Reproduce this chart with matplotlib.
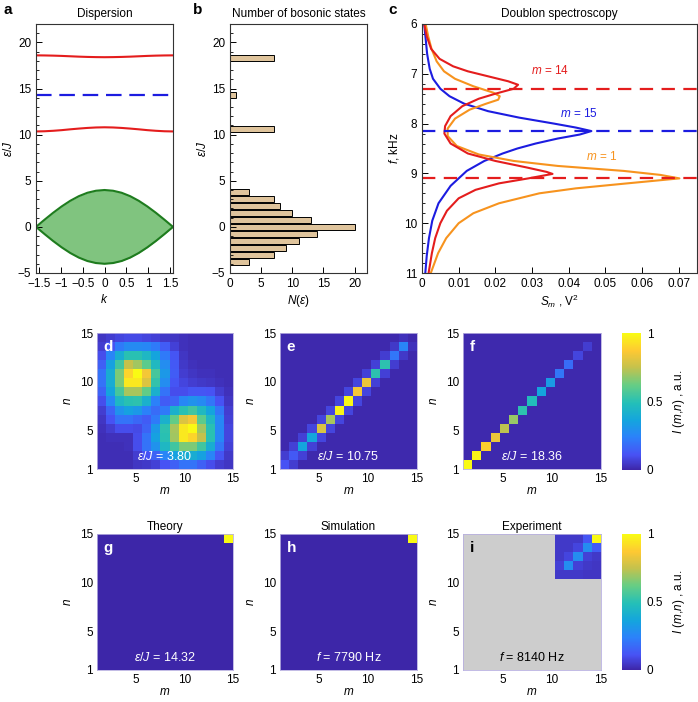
import numpy as np
import matplotlib
matplotlib.use('Agg')
import matplotlib.pyplot as plt
from matplotlib.colors import LinearSegmentedColormap
from matplotlib.ticker import MultipleLocator

plt.rcParams['font.family'] = ['Liberation Sans', 'DejaVu Sans']
plt.rcParams['mathtext.fontset'] = 'custom'
plt.rcParams['mathtext.rm'] = 'Liberation Sans'
plt.rcParams['mathtext.it'] = 'Liberation Sans:italic'
plt.rcParams['mathtext.bf'] = 'Liberation Sans:bold'
plt.rcParams['font.size'] = 8.5
plt.rcParams['axes.linewidth'] = 0.8

# ---------------- data: panel a (dispersion) ----------------
k_vals = [-1.5708, -1.3744, -1.1781, -0.9817, -0.7854, -0.5890, -0.3927, -0.1963, 0.0,
          0.1963, 0.3927, 0.5890, 0.7854, 0.9817, 1.1781, 1.3744, 1.5708]
band_top = [0.0, 0.78, 1.53, 2.22, 2.83, 3.33, 3.70, 3.92, 4.00,
            3.92, 3.70, 3.33, 2.83, 2.22, 1.53, 0.78, 0.0]
band_bottom = [0.0, -0.78, -1.53, -2.22, -2.83, -3.33, -3.70, -3.92, -4.00,
               -3.92, -3.70, -3.33, -2.83, -2.22, -1.53, -0.78, 0.0]
bound_upper = [18.60, 18.59, 18.57, 18.54, 18.50, 18.46, 18.43, 18.41, 18.40,
               18.41, 18.43, 18.46, 18.50, 18.54, 18.57, 18.59, 18.60]
bound_lower = [10.35, 10.37, 10.42, 10.49, 10.58, 10.66, 10.73, 10.78, 10.80,
               10.78, 10.73, 10.66, 10.58, 10.49, 10.42, 10.37, 10.35]
doublon_level = 14.32

# ---------------- data: panel b (number of states) ----------------
cont_centers = [-3.82, -3.05, -2.29, -1.53, -0.76, 0.0, 0.76, 1.53, 2.29, 3.05, 3.82]
cont_counts = [3, 7, 9, 11, 14, 20, 13, 10, 8, 7, 3]
bound_centers = [10.6, 14.32, 18.3]
bound_counts = [7, 1, 7]

# ---------------- data: panel c (doublon spectroscopy) ----------------
f_m14 = [6.0, 6.25, 6.5, 6.7, 6.85, 6.95, 7.05, 7.15, 7.22, 7.3, 7.4, 7.5, 7.65, 7.85, 8.05,
         8.2, 8.4, 8.6, 8.75, 8.88, 8.97, 9.01, 9.1, 9.2, 9.33, 9.5, 9.75, 10.0, 10.3, 10.6, 11.0]
S_m14 = [0.0006, 0.0013, 0.0025, 0.0048, 0.0085, 0.0125, 0.0180, 0.0235, 0.0262, 0.0250,
         0.0200, 0.0155, 0.0110, 0.0078, 0.0063, 0.0061, 0.0078, 0.0125, 0.0200, 0.0285,
         0.0340, 0.0356, 0.0290, 0.0210, 0.0146, 0.0100, 0.0068, 0.0050, 0.0036, 0.0027, 0.0018]
f_m1 = [6.0, 6.25, 6.5, 6.75, 6.95, 7.1, 7.25, 7.38, 7.45, 7.52, 7.6, 7.72, 7.9, 8.1, 8.25,
        8.45, 8.62, 8.75, 8.85, 8.95, 9.03, 9.1, 9.2, 9.3, 9.4, 9.6, 9.8, 10.0, 10.3, 10.6, 11.0]
S_m1 = [0.0010, 0.0017, 0.0026, 0.0040, 0.0060, 0.0090, 0.0140, 0.0195, 0.0212, 0.0208,
        0.0175, 0.0130, 0.0090, 0.0070, 0.0070, 0.0095, 0.0155, 0.0250, 0.0370, 0.0550,
        0.0650, 0.0702, 0.0560, 0.0420, 0.0320, 0.0210, 0.0140, 0.0100, 0.0066, 0.0044, 0.0024]
f_m15 = [6.0, 6.3, 6.6, 6.9, 7.1, 7.3, 7.45, 7.6, 7.75, 7.88, 8.0, 8.08, 8.15, 8.22, 8.3,
         8.4, 8.5, 8.6, 8.75, 8.95, 9.25, 9.6, 9.95, 10.3, 10.65, 11.0]
S_m15 = [0.0006, 0.0010, 0.0014, 0.0021, 0.0030, 0.0050, 0.0075, 0.0115, 0.0180, 0.0265,
         0.0360, 0.0420, 0.0462, 0.0430, 0.0370, 0.0310, 0.0260, 0.0220, 0.0170, 0.0122,
         0.0078, 0.0045, 0.0028, 0.0019, 0.0013, 0.0009]
res_red = [7.3, 9.1]
res_blue = 8.15

# ---------------- data: heatmaps (rows n = 15 ... 1, columns m = 1 ... 15) ----------------
d_rows = [
    [.04, .06, .08, .09, .09, .08, .07, .05, .04, .03, .02, .02, .02, .02, .02],
    [.06, .12, .22, .27, .27, .26, .22, .14, .07, .03, .02, .02, .02, .02, .02],
    [.10, .25, .40, .50, .50, .45, .36, .22, .12, .04, .02, .02, .02, .02, .02],
    [.15, .35, .55, .75, .70, .60, .46, .28, .13, .05, .03, .02, .02, .02, .02],
    [.20, .40, .65, .90, 1.0, .85, .56, .32, .14, .06, .04, .03, .03, .02, .02],
    [.20, .40, .65, .95, .95, .80, .52, .28, .12, .08, .06, .05, .04, .03, .02],
    [.16, .36, .56, .71, .71, .61, .42, .20, .10, .10, .12, .12, .11, .06, .03],
    [.10, .26, .45, .50, .51, .42, .24, .14, .16, .26, .30, .27, .21, .11, .04],
    [.06, .16, .30, .35, .32, .24, .18, .22, .42, .50, .55, .46, .36, .21, .06],
    [.04, .11, .20, .20, .17, .14, .22, .42, .61, .80, .85, .60, .45, .26, .07],
    [.03, .06, .10, .10, .09, .16, .32, .51, .71, .95, 1.0, .70, .50, .26, .08],
    [.02, .03, .03, .03, .10, .20, .35, .50, .70, .95, .90, .75, .50, .26, .08],
    [.02, .02, .02, .03, .10, .20, .30, .45, .55, .65, .65, .55, .40, .21, .07],
    [.02, .02, .02, .02, .06, .11, .16, .25, .35, .40, .40, .35, .25, .12, .05],
    [.02, .02, .02, .02, .04, .05, .07, .11, .15, .20, .20, .15, .10, .06, .04],
]
e_diag = [0.10, 0.12, 0.35, 0.36, 0.78, 0.70, 0.97, 0.98, 0.84, 0.82, 0.50, 0.50, 0.20, 0.24, 0.0]
e_offdiag = [0.05, 0.06, 0.06, 0.07, 0.07, 0.07, 0.07, 0.07, 0.07, 0.06, 0.06, 0.05, 0.04, 0.02]
f_diag = [1.0, 0.97, 0.88, 0.82, 0.73, 0.68, 0.50, 0.47, 0.35, 0.32, 0.20, 0.17, 0.07, 0.05, 0.0]
g_peak = 1.0
h_peak = 1.0
i_block_rows = [  # n = 15 ... 11, m = 11 ... 15
    [.05, .05, .05, .12, 1.0],
    [.05, .05, .08, .28, .14],
    [.05, .08, .28, .07, .05],
    [.07, .28, .07, .05, .04],
    [.05, .05, .05, .04, .04],
]

# ---------------- colormap (parula-like) ----------------
parula = LinearSegmentedColormap.from_list('parula', [
    (0.00, (0.2422, 0.1504, 0.6603)),
    (0.11, (0.2810, 0.3228, 0.9579)),
    (0.24, (0.1700, 0.5100, 0.9800)),
    (0.36, (0.0800, 0.6450, 0.8700)),
    (0.49, (0.1400, 0.7500, 0.7200)),
    (0.62, (0.4000, 0.8050, 0.5200)),
    (0.75, (0.7700, 0.7600, 0.3000)),
    (0.87, (0.9950, 0.7850, 0.2000)),
    (1.00, (0.9769, 0.9839, 0.0805)),
])
parula.set_bad('#cdcdcd')

W, H = 698, 702
fig = plt.figure(figsize=(W / 100, H / 100), dpi=100)


def add_ax(x0, y0, x1, y1):
    return fig.add_axes([x0 / W, 1 - y1 / H, (x1 - x0) / W, (y1 - y0) / H])


RED = '#e41d1d'
BLUE = '#1c1ce0'
ORANGE = '#f7931e'

# ---------------- panel a ----------------
axa = add_ax(36, 24, 173, 273)
axa.fill_between(k_vals, band_bottom, band_top, color='#80c47f', lw=0)
axa.plot(k_vals, band_top, color='#1e7c1e', lw=1.5)
axa.plot(k_vals, band_bottom, color='#1e7c1e', lw=1.5)
axa.plot(k_vals, bound_upper, color=RED, lw=1.5)
axa.plot(k_vals, bound_lower, color=RED, lw=1.5)
axa.axhline(doublon_level, color=BLUE, lw=1.6, dashes=(7, 3.5))
axa.set_xlim(-np.pi / 2, np.pi / 2)
axa.set_ylim(-5, 22)
axa.set_xticks([-1.5, -1, -0.5, 0, 0.5, 1, 1.5])
axa.set_xticklabels(['\u22121.5', '\u22121', '\u22120.5', '0', '0.5', '1', '1.5'])
axa.set_yticks([-5, 0, 5, 10, 15, 20])
axa.set_yticklabels(['\u22125', '0', '5', '10', '15', '20'])
axa.yaxis.set_minor_locator(MultipleLocator(1))
axa.set_xlabel(r'$k$', labelpad=2)
axa.set_ylabel(r'$\varepsilon/J$', labelpad=2)
axa.set_title('Dispersion', fontsize=8.5, pad=5)

# ---------------- panel b ----------------
axb = add_ax(230, 24, 367, 273)
axb.barh(cont_centers, cont_counts, height=0.66, color='#dfc49c', edgecolor='black', lw=0.7)
axb.barh(bound_centers, bound_counts, height=0.6, color='#dfc49c', edgecolor='black', lw=0.7)
axb.set_xlim(0, 22)
axb.set_ylim(-5, 22)
axb.set_xticks([0, 5, 10, 15, 20])
axb.set_yticks([-5, 0, 5, 10, 15, 20])
axb.set_yticklabels(['\u22125', '0', '5', '10', '15', '20'])
axb.yaxis.set_minor_locator(MultipleLocator(1))
axb.set_xlabel(r'$N(\varepsilon)$', labelpad=2)
axb.set_ylabel(r'$\varepsilon/J$', labelpad=2)
axb.set_title('Number of bosonic states', fontsize=8.5, pad=5)

# ---------------- panel c ----------------
axc = add_ax(422, 24, 697, 273)
axc.plot(S_m15, f_m15, color=BLUE, lw=1.5)
axc.plot(S_m1, f_m1, color=ORANGE, lw=1.5)
axc.plot(S_m14, f_m14, color=RED, lw=1.5)
for fr in res_red:
    axc.axhline(fr, color=RED, lw=1.6, dashes=(6, 3.8))
axc.axhline(res_blue, color=BLUE, lw=1.6, dashes=(6, 3.8))
axc.set_xlim(0, 0.075)
axc.set_ylim(11, 6)
axc.set_xticks([0, 0.01, 0.02, 0.03, 0.04, 0.05, 0.06, 0.07])
axc.set_xticklabels(['0', '0.01', '0.02', '0.03', '0.04', '0.05', '0.06', '0.07'])
axc.set_yticks([6, 7, 8, 9, 10, 11])
axc.yaxis.set_minor_locator(MultipleLocator(0.2))
axc.set_xlabel(r'$S_m$ , V$^2$', labelpad=2)
axc.set_ylabel(r'$f$, kHz', labelpad=2)
axc.set_title('Doublon spectroscopy', fontsize=8.5, pad=5)
axc.text(0.035, 6.94, r'$m$ = 14', color=RED, ha='center', va='center', fontsize=8.5)
axc.text(0.0427, 7.79, r'$m$ = 15', color=BLUE, ha='center', va='center', fontsize=8.5)
axc.text(0.049, 8.67, r'$m$ = 1', color=ORANGE, ha='center', va='center', fontsize=8.5)

for ax in (axa, axb, axc):
    ax.tick_params(direction='in', which='major', length=4, width=0.7, top=False, right=False)
    ax.tick_params(direction='in', which='minor', length=2, width=0.6, top=False, right=False)
    for s in ax.spines.values():
        s.set_color('#333333')

# ---------------- heatmaps ----------------
d_mat = np.array(d_rows)[::-1]          # row index n-1
e_mat = np.diag(e_diag) + np.diag(e_offdiag, 1) + np.diag(e_offdiag, -1) + 0.01
f_mat = np.diag(f_diag) + 0.01
g_mat = np.zeros((15, 15)); g_mat[14, 14] = g_peak
h_mat = np.zeros((15, 15)); h_mat[14, 14] = h_peak
i_mat = np.full((15, 15), np.nan)
i_mat[10:15, 10:15] = np.array(i_block_rows)[::-1]


def heat(box, data, letter, caption, title=None, dark=False):
    ax = add_ax(*box)
    im = ax.imshow(np.ma.masked_invalid(data), cmap=parula, vmin=0, vmax=1, origin='lower',
                   extent=(1, 15, 1, 15), interpolation='nearest', aspect='auto')
    ax.set_xticks([5, 10, 15])
    ax.set_yticks([1, 5, 10, 15])
    ax.tick_params(length=0, pad=3)
    for s in ax.spines.values():
        s.set_color('#b8b0e0')
        s.set_linewidth(0.6)
    ax.set_xlabel(r'$m$', labelpad=0)
    ax.set_ylabel(r'$n$', labelpad=4)
    col = 'black' if dark else 'white'
    ax.text(0.05, 0.95, letter, transform=ax.transAxes, color=col, fontsize=11,
            fontweight='bold', ha='left', va='top')
    ax.text(0.5, 0.09, caption, transform=ax.transAxes, color=col, fontsize=9,
            ha='center', va='center')
    if title:
        ax.set_title(title, fontsize=8.5, pad=3)
    return im


heat((97, 333, 233, 469), d_mat, 'd', r'$\varepsilon/J$ = 3.80')
heat((280, 333, 417, 469), e_mat, 'e', r'$\varepsilon/J$ = 10.75')
im1 = heat((463, 333, 601, 469), f_mat, 'f', r'$\varepsilon/J$ = 18.36')
heat((97, 534, 233, 670), g_mat, 'g', r'$\varepsilon/J$ = 14.32', title='Theory')
heat((280, 534, 417, 670), h_mat, 'h', r'$f$ = 7790 Hz', title='Simulation')
im2 = heat((463, 534, 601, 670), i_mat, 'i', r'$f$ = 8140 Hz', title='Experiment', dark=True)

for im, box in ((im1, (622, 333, 641, 470)), (im2, (622, 534, 641, 670))):
    cax = add_ax(*box)
    cb = fig.colorbar(im, cax=cax, ticks=[0, 0.5, 1])
    cb.ax.set_yticklabels(['0', '0.5', '1'])
    cb.outline.set_visible(False)
    cb.ax.tick_params(length=0, pad=4)
    cb.set_label(r'$I\ (m{,}n)$ , a.u.', rotation=90, labelpad=6)

# ---------------- panel letters a-c ----------------
for txt, x, y in (('a', 3, 3), ('b', 193, 3), ('c', 388, 3)):
    fig.text(x / W, 1 - y / H, txt, fontsize=11, fontweight='bold', ha='left', va='top')

fig.savefig('out.png', dpi=100)
